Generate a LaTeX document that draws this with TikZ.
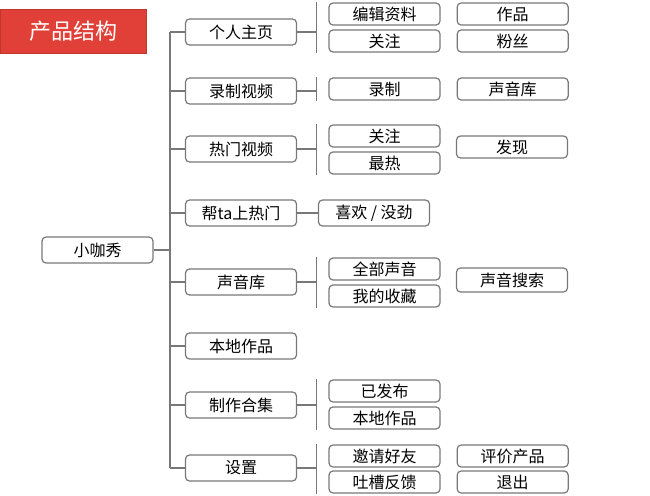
\documentclass[tikz,border=0pt]{standalone}
\usepackage{fontspec}
\setmainfont{Noto Sans CJK SC}
\usetikzlibrary{positioning}
\definecolor{boxline}{RGB}{120,120,120}
\definecolor{titlered}{RGB}{224,64,56}

\begin{document}
\begin{tikzpicture}[x=1pt, y=-1pt,
    box/.style={draw=boxline, line width=1.2pt, rectangle, rounded corners=4pt,
        minimum width=111pt, minimum height=26pt, inner sep=0pt, font=\fontsize{16}{16}\selectfont},
    leaf/.style={box, minimum height=22pt},
    link/.style={draw=boxline, line width=1.2pt}]
    \useasboundingbox (0,0) rectangle (650,495);

    % title
    \node[fill=titlered, draw=titlered!85!black, minimum width=146pt, minimum height=44pt,
        inner sep=0pt, text=white, font=\fontsize{22}{22}\selectfont] (title) at (73,31) {产品结构};

    % root and first level
    \node[box] (root) at (97.5,250) {小咖秀};
    \node[box] (p1) at (241,32) {个人主页};
    \node[box] (p2) at (241,91) {录制视频};
    \node[box] (p3) at (241,149) {热门视频};
    \node[box] (p4) at (241,213) {帮ta上热门};
    \node[box] (p5) at (241,282) {声音库};
    \node[box] (p6) at (241,346) {本地作品};
    \node[box] (p7) at (241,405) {制作合集};
    \node[box] (p8) at (241,468) {设置};

    % second level
    \node[leaf] (c11) at (384.5,14) {编辑资料};
    \node[leaf] (c12) at (384.5,41) {关注};
    \node[leaf, right=16pt of c11] (d11) {作品};
    \node[leaf, right=16pt of c12] (d12) {粉丝};
    \node[leaf] (c21) at (384.5,89) {录制};
    \node[leaf, right=16pt of c21] (d21) {声音库};
    \node[leaf] (c31) at (384.5,136) {关注};
    \node[leaf] (c32) at (384.5,163) {最热};
    \node[leaf] (d31) at (512,147) {发现};
    \node[box] (c41) at (374,213) {喜欢 / 没劲};
    \node[leaf] (c51) at (384.5,269) {全部声音};
    \node[leaf] (c52) at (384.5,296) {我的收藏};
    \node[leaf, minimum height=24pt] (d51) at (512,280) {声音搜索};
    \node[leaf] (c71) at (384.5,391) {已发布};
    \node[leaf] (c72) at (384.5,418) {本地作品};
    \node[leaf] (c81) at (384.5,456) {邀请好友};
    \node[leaf] (c82) at (384.5,482) {吐槽反馈};
    \node[leaf, right=16pt of c81] (d81) {评价产品};
    \node[leaf, right=16pt of c82] (d82) {退出};

    % spine
    \coordinate (spinetop) at ([xshift=-15pt]p1.west);
    \coordinate (spinebot) at ([xshift=-15pt]p8.west);
    \draw[link] (spinetop) -- (spinebot);
    \draw[link] (root.east) -- (root.east -| spinetop);
    \foreach \n in {p1,p2,p3,p4,p5,p6,p7,p8}
        \draw[link] (\n.west) -- (\n.west -| spinetop);

    % brackets
    \foreach \p/\a/\b in {p1/c11/c12, p2/c21/c21, p3/c31/c32, p5/c51/c52, p7/c71/c72, p8/c81/c82} {
        \coordinate (top\p) at ([xshift=-12pt]\a.north west);
        \coordinate (bot\p) at ([xshift=-12pt]\b.south west);
        \draw[link] (top\p) -- (bot\p);
        \draw[link] (\p.east) -- (\p.east -| top\p);
    }
    \draw[link] (p4) -- (c41);
\end{tikzpicture}
\end{document}
